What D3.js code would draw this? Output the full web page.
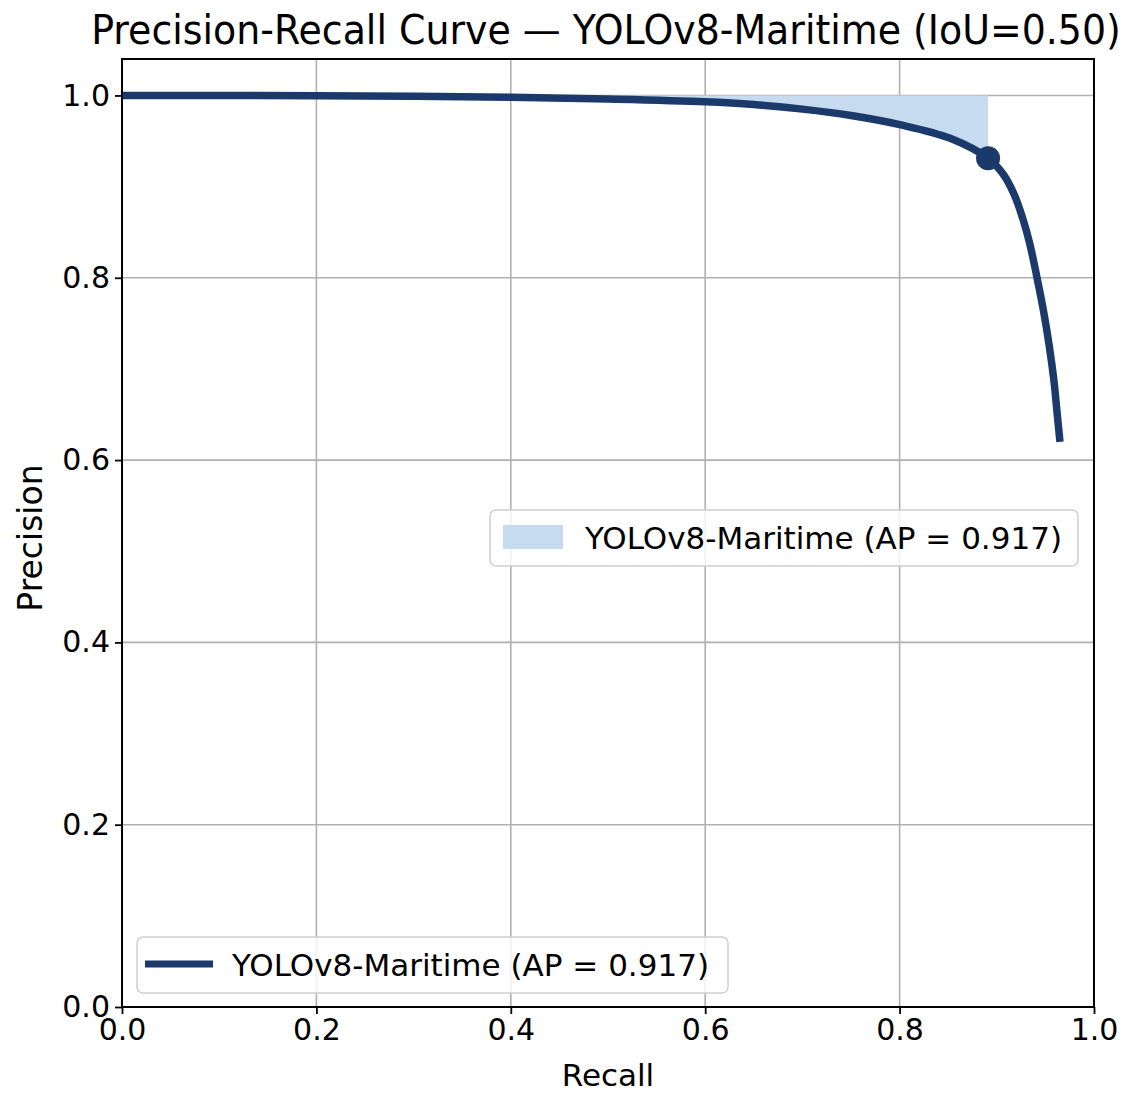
<!DOCTYPE html>
<html>
<head>
<meta charset="utf-8">
<script src="https://cdn.jsdelivr.net/npm/d3@7"></script>
<style>
  body { margin: 0; background: #fff; }
  text { font-family: "DejaVu Sans", sans-serif; fill: #000; }
</style>
</head>
<body>
<svg id="chart" width="1134" height="1095"></svg>
<script>
// PR curve values
const recall    = [0, 0.1, 0.2, 0.3, 0.4, 0.5, 0.6, 0.65, 0.7, 0.75, 0.8, 0.852, 0.891, 0.907, 0.918, 0.927, 0.934, 0.941, 0.948, 0.954, 0.959, 0.962, 0.965];
const precision = [1.0, 0.9999, 0.9997, 0.999, 0.998, 0.996, 0.993, 0.990, 0.985, 0.978, 0.968, 0.953, 0.931, 0.913, 0.891, 0.864, 0.837, 0.802, 0.764, 0.725, 0.685, 0.652, 0.620];
const opPoint = { recall: 0.891, precision: 0.931 };
const ticks = [0, 0.2, 0.4, 0.6, 0.8, 1.0];
const title = "Precision-Recall Curve \u2014 YOLOv8-Maritime (IoU=0.50)";
const legendLabel = "YOLOv8-Maritime (AP = 0.917)";

const navy = "#1b3a6b", fillBlue = "#c6dbef";

let svg = d3.select("#chart"),
    margin = { top: 59, right: 40, bottom: 88, left: 122 },
    width = +svg.attr("width"),
    height = +svg.attr("height");
let chartWidth = width - margin.left - margin.right;   // 972
let chartHeight = height - margin.top - margin.bottom; // 948

let x = d3.scaleLinear().domain([0, 1]).range([0, chartWidth]);
let y = d3.scaleLinear().domain([0, 1.04]).range([chartHeight, 0]);

let g = svg.append("g").attr("transform", `translate(${margin.left},${margin.top})`);

let pts = recall.map((r, i) => ({ r: r, p: precision[i] }));

// grid
g.append("g").selectAll("line").data(ticks).join("line")
  .attr("x1", d => x(d)).attr("x2", d => x(d)).attr("y1", 0).attr("y2", chartHeight)
  .attr("stroke", "#b0b0b0").attr("stroke-width", 1.6);
g.append("g").selectAll("line").data(ticks).join("line")
  .attr("y1", d => y(d)).attr("y2", d => y(d)).attr("x1", 0).attr("x2", chartWidth)
  .attr("stroke", "#b0b0b0").attr("stroke-width", 1.6);

// shaded area between curve and precision=1 up to the operating point
let fillPts = pts.filter(d => d.r <= opPoint.recall);
g.append("path").datum(fillPts)
  .attr("fill", fillBlue)
  .attr("d", d3.area().x(d => x(d.r)).y0(y(1)).y1(d => y(d.p)).curve(d3.curveMonotoneX));

// curve
g.append("path").datum(pts)
  .attr("fill", "none").attr("stroke", navy).attr("stroke-width", 7.5)
  .attr("d", d3.line().x(d => x(d.r)).y(d => y(d.p)).curve(d3.curveCatmullRom.alpha(0.5)));

g.append("circle").attr("cx", x(opPoint.recall)).attr("cy", y(opPoint.precision))
  .attr("r", 12).attr("fill", navy);

// axes
let xAxis = g.append("g").attr("transform", `translate(0,${chartHeight})`)
  .call(d3.axisBottom(x).tickValues(ticks).tickFormat(d3.format(".1f")).tickSizeOuter(0).tickSize(7).tickPadding(5));
let yAxis = g.append("g")
  .call(d3.axisLeft(y).tickValues(ticks).tickFormat(d3.format(".1f")).tickSizeOuter(0).tickSize(7).tickPadding(5));
[xAxis, yAxis].forEach(a => {
  a.select(".domain").remove();
  a.selectAll(".tick line").attr("stroke", "#000").attr("stroke-width", 1.8);
  a.selectAll(".tick text").style("font-family", "DejaVu Sans").style("font-size", "30px").attr("fill", "#000");
});

// frame
g.append("rect").attr("width", chartWidth).attr("height", chartHeight)
  .attr("fill", "none").attr("stroke", "#000").attr("stroke-width", 2);

// squeeze a text horizontally to a given width
function squeeze(sel, cx, base, w) {
  let natural = sel.node().getComputedTextLength();
  let k = Math.min(1, w / natural);
  sel.attr("x", 0).attr("y", 0).attr("transform", `translate(${cx},${base}) scale(${k},1)`);
}

// legends
function legend(lx, ly, w, kind) {
  let lg = g.append("g").attr("transform", `translate(${lx},${ly})`);
  lg.append("rect").attr("width", w).attr("height", 56).attr("rx", 6)
    .attr("fill", "#fff").attr("fill-opacity", 0.8).attr("stroke", "#d0d0d0").attr("stroke-width", 1.5);
  if (kind === "patch") {
    lg.append("rect").attr("x", 13).attr("y", 15).attr("width", 60).attr("height", 24).attr("fill", fillBlue);
  } else {
    lg.append("line").attr("x1", 8).attr("x2", 76).attr("y1", 27).attr("y2", 27)
      .attr("stroke", navy).attr("stroke-width", 7);
  }
  let t = lg.append("text").style("font-size", "31px").text(legendLabel);
  squeeze(t, 95, 39, 480);
}
legend(490 - margin.left, 510 - margin.top, 588, "patch");
legend(137 - margin.left, 937 - margin.top, 591, "line");

// labels
let tt = svg.append("text").attr("text-anchor", "middle").style("font-size", "40px").text(title);
squeeze(tt, 606, 44, 1030);
svg.append("text").attr("x", margin.left + chartWidth / 2).attr("y", 1086).attr("text-anchor", "middle")
  .style("font-size", "31px").text("Recall");
svg.append("text").attr("transform", `translate(42,${margin.top + chartHeight / 2 + 5}) rotate(-90)`)
  .attr("text-anchor", "middle").style("font-size", "33px").text("Precision");
</script>
</body>
</html>
